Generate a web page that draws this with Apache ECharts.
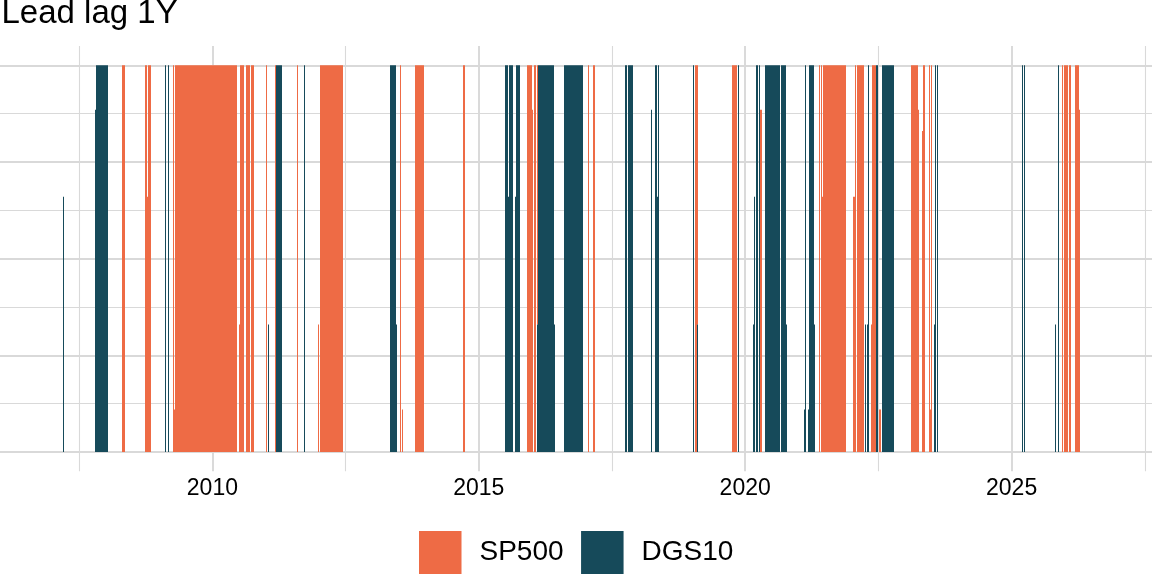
<!DOCTYPE html>
<html>
<head>
<meta charset="utf-8">
<script src="https://cdn.jsdelivr.net/npm/echarts@6/dist/echarts.min.js"></script>
<style>
html,body{margin:0;padding:0;background:#fff;overflow:hidden;width:1152px;height:576px;}
#wrap{position:relative;width:1152px;height:576px;overflow:hidden;}
#chart{position:absolute;left:-57px;top:0;width:1338px;height:576px;}
</style>
</head>
<body>
<div id="wrap"><div id="chart"></div></div>
<script>
// ---- data (decimal years; value = share of the bar height) ----
const seriesNames = ['SP500', 'DGS10'];
const yearLabels = [2010, 2015, 2020, 2025];
const seriesColors = ['#EE6B45', '#164A5A'];

// [start, end, value]
const dgs10Runs = [
  [2007.196, 2007.215, 0.66],
  [2007.794, 2007.819, 0.885],
  [2007.819, 2008.037, 1],
  [2009.103, 2009.121, 1],
  [2009.159, 2009.178, 1],
  [2011.047, 2011.065, 0.33],
  [2011.196, 2011.308, 1],
  [2011.720, 2011.738, 1],
  [2013.327, 2013.445, 1],
  [2013.445, 2013.464, 0.33],
  [2015.495, 2015.546, 1],
  [2015.546, 2015.564, 0.66],
  [2015.564, 2015.645, 1],
  [2015.682, 2015.701, 0.66],
  [2015.701, 2015.776, 1],
  [2016.093, 2016.112, 0.33],
  [2016.112, 2016.411, 1],
  [2016.411, 2016.430, 0.33],
  [2016.598, 2016.953, 1],
  [2017.738, 2017.776, 1],
  [2017.794, 2017.888, 1],
  [2018.224, 2018.243, 0.885],
  [2018.299, 2018.336, 1],
  [2018.336, 2018.355, 0.66],
  [2018.355, 2018.374, 1],
  [2019.028, 2019.047, 1],
  [2019.093, 2019.121, 0.33],
  [2019.869, 2019.888, 1],
  [2020.150, 2020.168, 0.33],
  [2020.168, 2020.187, 0.66],
  [2020.206, 2020.243, 1],
  [2020.262, 2020.280, 1],
  [2020.374, 2020.654, 1],
  [2020.673, 2020.766, 1],
  [2020.766, 2020.785, 0.33],
  [2021.103, 2021.121, 0.11],
  [2021.121, 2021.140, 1],
  [2021.178, 2021.196, 0.11],
  [2021.196, 2021.290, 1],
  [2021.290, 2021.308, 0.33],
  [2022.243, 2022.262, 0.33],
  [2022.280, 2022.299, 0.33],
  [2022.299, 2022.318, 1],
  [2022.449, 2022.486, 1],
  [2022.561, 2022.785, 1],
  [2023.551, 2023.570, 0.33],
  [2023.570, 2023.589, 1],
  [2023.607, 2023.626, 1],
  [2025.196, 2025.215, 1],
  [2025.234, 2025.252, 1],
  [2025.813, 2025.832, 0.33],
  [2025.869, 2025.888, 1]
];

const sp500Runs = [
  [2008.299, 2008.355, 1],
  [2008.729, 2008.772, 1],
  [2008.772, 2008.791, 0.66],
  [2008.791, 2008.841, 1],
  [2009.252, 2009.284, 1],
  [2009.284, 2009.303, 0.11],
  [2009.303, 2010.467, 1],
  [2010.505, 2010.523, 0.33],
  [2010.523, 2010.598, 1],
  [2010.636, 2010.710, 1],
  [2010.729, 2010.785, 1],
  [2011.009, 2011.028, 1],
  [2011.178, 2011.196, 1],
  [2011.589, 2011.607, 1],
  [2011.981, 2012.000, 0.33],
  [2012.019, 2012.449, 1],
  [2013.514, 2013.533, 1],
  [2013.551, 2013.570, 0.11],
  [2013.794, 2013.963, 1],
  [2014.710, 2014.742, 1],
  [2015.907, 2016.006, 1],
  [2016.006, 2016.024, 0.885],
  [2016.037, 2016.075, 1],
  [2016.093, 2016.112, 0.67],
  [2017.047, 2017.065, 1],
  [2017.140, 2017.178, 1],
  [2019.065, 2019.093, 1],
  [2019.093, 2019.121, 0.67],
  [2019.757, 2019.850, 1],
  [2020.280, 2020.318, 0.885],
  [2021.383, 2021.402, 1],
  [2021.421, 2021.439, 1],
  [2021.439, 2021.458, 0.66],
  [2021.458, 2021.888, 1],
  [2022.019, 2022.056, 0.66],
  [2022.056, 2022.075, 1],
  [2022.093, 2022.224, 1],
  [2022.355, 2022.374, 0.33],
  [2022.374, 2022.449, 1],
  [2022.505, 2022.555, 0.11],
  [2023.121, 2023.252, 1],
  [2023.252, 2023.271, 0.885],
  [2023.327, 2023.346, 0.83],
  [2023.346, 2023.383, 1],
  [2023.458, 2023.477, 1],
  [2023.477, 2023.495, 0.11],
  [2023.495, 2023.514, 1],
  [2025.944, 2025.963, 1],
  [2025.981, 2026.056, 1],
  [2026.075, 2026.112, 1],
  [2026.187, 2026.197, 1],
  [2026.197, 2026.215, 0.11],
  [2026.215, 2026.262, 1],
  [2026.262, 2026.280, 0.885]
];

// ---- stacking: DGS10 at bottom, SP500 stacked on top ----
function dgsAt(t) {
  for (const r of dgs10Runs) { if (t > r[0] && t < r[1]) return r[2]; }
  return 0;
}
const dgsData = dgs10Runs.map(r => [r[0], r[1], 0, r[2]]);
const spData = sp500Runs.map(r => {
  const base = dgsAt((r[0] + r[1]) / 2);
  return [r[0], r[1], base, base + r[2]];
});

function renderRun(params, api) {
  const p0 = api.coord([api.value(0), api.value(3)]);
  const p1 = api.coord([api.value(1), api.value(2)]);
  const xa = Math.round(p0[0]);
  const xb = Math.max(Math.round(p1[0]), xa + 1);
  return {
    type: 'rect',
    shape: { x: xa, y: p0[1], width: xb - xa, height: p1[1] - p0[1] },
    style: { fill: api.visual('color') }
  };
}

const FONT = '"Liberation Sans", Arial, sans-serif';
const GRID_COLOR = '#D9D9D9';
const OFFSET = 57; // chart div is shifted left by this many px
const chart = echarts.init(document.getElementById('chart'), null, { renderer: 'canvas' });

chart.setOption({
  animation: false,
  backgroundColor: '#ffffff',
  title: {
    text: 'Lead lag 1Y', left: OFFSET + 1.5, top: -3, padding: 0,
    textStyle: { fontFamily: FONT, fontSize: 33, fontWeight: 'normal', color: '#000' }
  },
  legend: {
    data: seriesNames, left: 419 + OFFSET, top: 531, padding: 0,
    itemWidth: 42.5, itemHeight: 43, itemGap: 17.5, icon: 'rect', selectedMode: false,
    textStyle: { fontFamily: FONT, fontSize: 28, color: '#000', padding: [0, 0, 0, 13] }
  },
  grid: [
    { left: 0, right: 0.3, top: 46.0, bottom: 104.7 },
    { left: 0, right: 0.3, top: 65.3, bottom: 124 }
  ],
  xAxis: [
    {
      type: 'value', gridIndex: 0, min: 2005, max: 2030, interval: 5,
      axisLine: { show: false }, axisTick: { show: false },
      axisLabel: {
        margin: 6, fontFamily: FONT, fontSize: 23, color: '#000',
        formatter: v => yearLabels.includes(v) ? String(v) : ''
      },
      splitLine: { show: true, lineStyle: { color: GRID_COLOR, width: 1.9 } },
      minorTick: { show: false, splitNumber: 2 },
      minorSplitLine: { show: true, lineStyle: { color: GRID_COLOR, width: 1.1 } }
    },
    {
      type: 'value', gridIndex: 1, min: 2005, max: 2030, show: false
    }
  ],
  yAxis: [
    { type: 'value', gridIndex: 0, min: -0.05, max: 1.05, show: false },
    {
      type: 'value', gridIndex: 1, min: 0, max: 1, interval: 0.25,
      axisLine: { show: false }, axisTick: { show: false }, axisLabel: { show: false },
      splitLine: { show: true, lineStyle: { color: GRID_COLOR, width: 1.8 } },
      minorTick: { show: false, splitNumber: 2 },
      minorSplitLine: { show: true, lineStyle: { color: GRID_COLOR, width: 1.1 } }
    }
  ],
  series: [
    {
      name: 'SP500', type: 'custom', xAxisIndex: 0, yAxisIndex: 0,
      itemStyle: { color: seriesColors[0] },
      encode: { x: [0, 1], y: [2, 3] },
      renderItem: renderRun, data: spData
    },
    {
      name: 'DGS10', type: 'custom', xAxisIndex: 0, yAxisIndex: 0,
      itemStyle: { color: seriesColors[1] },
      encode: { x: [0, 1], y: [2, 3] },
      renderItem: renderRun, data: dgsData
    }
  ]
});
</script>
</body>
</html>
